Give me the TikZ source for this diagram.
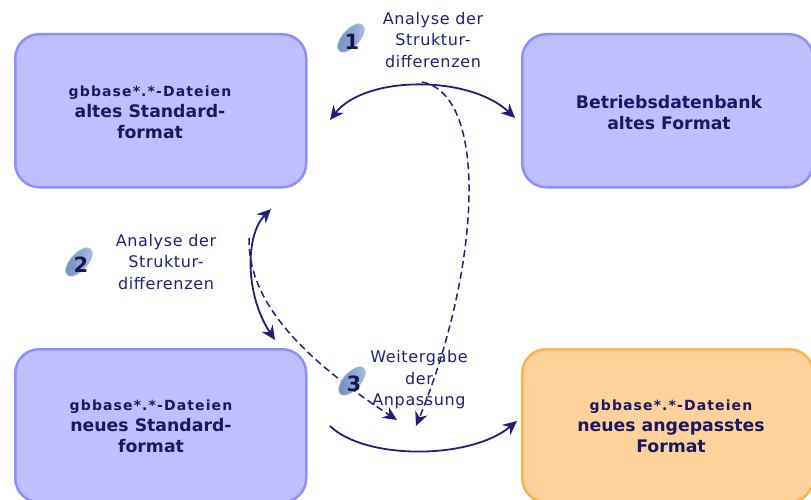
\documentclass[tikz,border=0pt]{standalone}
\usepackage{fontspec}
\setmainfont{DejaVu Sans}
\usepackage{tikz}
\usetikzlibrary{arrows.meta,shapes.geometric}
\definecolor{boxblue}{HTML}{BFBFFF}
\definecolor{lineblue}{HTML}{8E8EFF}
\definecolor{boxorange}{HTML}{FFD29B}
\definecolor{lineorange}{HTML}{FFB347}
\definecolor{inkblue}{HTML}{20207A}
\definecolor{badgedark}{HTML}{6F8DBC}
\definecolor{badgelight}{HTML}{A9BEE4}
\tikzset{
    box/.style={draw=lineblue,fill=boxblue,line width=2.5pt,rounded corners=24pt,
        minimum width=291pt,minimum height=153pt,anchor=north west,inner sep=0pt},
    orangebox/.style={box,draw=lineorange,fill=boxorange},
    note/.style={text=inkblue,font=\fontsize{16pt}{21.5pt}\selectfont\addfontfeature{LetterSpace=4},align=center},
    boxtext/.style={text=black!20!inkblue,font=\fontsize{17.3pt}{21pt}\selectfont\bfseries,align=center},
    badge/.style={ellipse,left color=badgedark,right color=badgelight,draw=badgelight,line width=.6pt,
        minimum width=35pt,minimum height=17pt,inner sep=0pt,rotate=-132},
    badgetext/.style={text=black!30!inkblue,font=\fontsize{21pt}{21pt}\selectfont\bfseries},
    link/.style={draw=inkblue,line width=1.8pt,-{Stealth[length=14pt,width=13pt]}},
    bothlink/.style={link,{Stealth[length=14pt,width=13pt]}-{Stealth[length=14pt,width=13pt]}},
    dashlink/.style={link,dash pattern=on 7pt off 4pt,line width=1.5pt}
}
\newcommand{\smallbase}{{\fontsize{14pt}{21pt}\selectfont\addfontfeature{LetterSpace=8}gbbase*.*-Dateien}}
\begin{document}
\begin{tikzpicture}[x=1pt,y=-1pt]
    \useasboundingbox (0,0) rectangle (811,500);
    \clip (0,0) rectangle (811,500);
    % boxes
    \node[box] (oldbase) at (14,33) {};
    \node[box] (olddb) at (521,33) {};
    \node[box] (newbase) at (14,348) {};
    \node[orangebox] (result) at (521,348) {};
    \node[boxtext] (oldbasetext) at (150,112) {\smallbase\\altes Standard-\\format};
    \node[boxtext] (olddbtext) at (669,113) {Betriebsdatenbank\\altes Format};
    \node[boxtext] (newbasetext) at (151,426) {\smallbase\\neues Standard-\\format};
    \node[boxtext] (resulttext) at (671,426) {\smallbase\\neues angepasstes\\Format};
    % free ends of the connectors
    \coordinate (a1) at (330,120);
    \coordinate (b1) at (515,118);
    \coordinate (a2) at (271,209);
    \coordinate (b2) at (275,340);
    \coordinate (a3) at (330,426);
    \coordinate (b3) at (517,421);
    \coordinate (d1) at (422,82);
    \coordinate (e1) at (416,426);
    \coordinate (d2) at (249,238);
    \coordinate (e2) at (397,420);
    % connectors
    \draw[bothlink] (a1) .. controls (365,75) and (470,75) .. (b1);
    \draw[bothlink] (a2) .. controls (245,235) and (245,295) .. (b2);
    \draw[link] (a3) .. controls (365,460) and (470,460) .. (b3);
    \draw[dashlink] (d1) .. controls (490,95) and (480,270) .. (e1);
    \draw[dashlink] (d2) .. controls (248,295) and (290,350) .. (e2);
    % badges
    \node[badge] (one) at (351,38) {};
    \node[badge] (two) at (79,262) {};
    \node[badge] (three) at (352,381) {};
    \node[badgetext] (onetext) at (352,42) {1};
    \node[badgetext] (twotext) at (81,265) {2};
    \node[badgetext] (threetext) at (354,384) {3};
    % notes
    \node[note] (noteone) at (433,40) {Analyse der\\Struktur-\\differenzen};
    \node[note] (notetwo) at (166,262) {Analyse der\\Struktur-\\differenzen};
    \node[note] (notethree) at (419,380) {Weitergabe\\der\\Anpassung};
\end{tikzpicture}
\end{document}
